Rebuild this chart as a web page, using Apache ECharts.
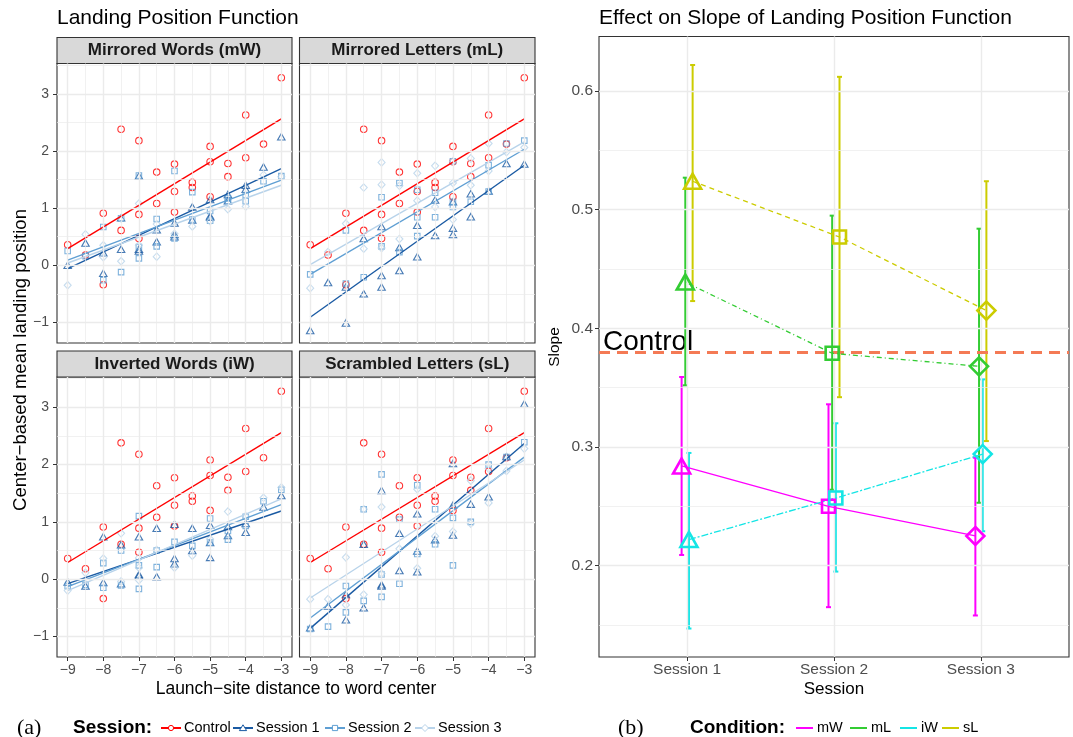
<!DOCTYPE html>
<html><head><meta charset="utf-8">
<script src="https://cdn.jsdelivr.net/npm/echarts@6/dist/echarts.min.js"></script>
<style>html,body{margin:0;padding:0;background:#fff}#c{width:1073px;height:737px}</style>
</head><body><div id="c"></div>
<script>
// ---------------- DATA ----------------
const sessionNames = ['Control', 'Session 1', 'Session 2', 'Session 3'];
const xTicksL = [-9, -8, -7, -6, -5, -4, -3];
const xMinorL = [-8.5, -7.5, -6.5, -5.5, -4.5, -3.5];
const yTicksL = [-1, 0, 1, 2, 3];
const yMinorL = [-0.5, 0.5, 1.5, 2.5, 3.5];

const ctrlPts = [[-9,0.36],[-8.5,0.18],[-8,0.91],[-8,-0.34],[-7.5,2.38],[-7.5,0.61],[-7,2.18],[-7,0.89],[-7,0.47],[-6.5,1.63],[-6.5,1.08],[-6,1.77],[-6,1.29],[-6,0.93],[-5.5,1.45],[-5.5,1.36],[-5,2.08],[-5,1.81],[-5,1.20],[-4.5,1.78],[-4.5,1.55],[-4,2.63],[-4,1.88],[-3.5,2.12],[-3,3.28]];

const mW_s1 = [[-9,0.0],[-8.5,0.39],[-8,0.22],[-8,-0.14],[-7.5,0.83],[-7.5,0.28],[-7,1.56],[-7,0.28],[-7,0.25],[-6.5,0.62],[-6.5,0.41],[-6,0.74],[-6,0.54],[-6,0.50],[-5.5,1.02],[-5.5,0.79],[-5,1.15],[-5,0.86],[-5,0.84],[-4.5,1.24],[-4.5,1.13],[-4,1.40],[-4,1.33],[-3.5,1.72],[-3,2.25]];
const mW_s2 = [[-9,0.25],[-8.5,0.16],[-8,0.67],[-8,-0.26],[-7.5,0.82],[-7.5,-0.12],[-7,1.57],[-7,0.32],[-7,0.12],[-6.5,0.81],[-6.5,0.33],[-6,1.65],[-6,0.47],[-5.5,1.28],[-5.5,0.80],[-5,0.95],[-5,0.78],[-4.5,1.17],[-4.5,1.12],[-4,1.23],[-4,1.12],[-3.5,1.47],[-3,1.56]];
const mW_s3 = [[-9,-0.35],[-8.5,0.54],[-8,0.35],[-8,0.14],[-7.5,0.07],[-7.5,0.82],[-7,1.08],[-7,0.35],[-6.5,0.72],[-6.5,0.15],[-6,0.55],[-5.5,0.68],[-5,0.77],[-4.5,0.98],[-4,1.03],[-3.5,1.58],[-3,1.55]];

const mL_s1 = [[-9,-1.14],[-8.5,-0.30],[-8,-0.38],[-8,-1.01],[-7.5,0.47],[-7.5,-0.50],[-7,0.68],[-7,-0.18],[-7,-0.38],[-6.5,0.31],[-6.5,-0.09],[-6,0.70],[-6,0.15],[-5.5,1.14],[-5.5,0.52],[-5,1.11],[-5,0.65],[-5,0.54],[-4.5,1.25],[-4.5,0.85],[-4,1.30],[-3.5,1.78],[-3,1.77]];
const mL_s2 = [[-9,-0.16],[-8,0.61],[-8,-0.32],[-7.5,-0.21],[-7,1.19],[-7,0.33],[-6.5,1.44],[-6.5,0.23],[-6,1.32],[-6,0.84],[-6,0.51],[-5.5,1.27],[-5.5,0.84],[-5,1.82],[-5,1.11],[-5,1.02],[-4.5,1.11],[-4,1.75],[-4,1.29],[-3.5,2.13],[-3,2.18]];
const mL_s3 = [[-9,-0.40],[-8.5,0.23],[-8,0.73],[-7.5,1.36],[-7.5,0.29],[-7,1.80],[-7,1.41],[-7,0.30],[-6.5,1.39],[-6.5,0.46],[-6,1.61],[-6,1.13],[-5.5,1.74],[-5.5,1.02],[-5,1.82],[-5,1.44],[-5,0.80],[-4.5,1.87],[-4.5,1.40],[-4,2.13],[-4,1.65],[-3.5,1.98],[-3,2.06]];

const iW_s1 = [[-9,-0.05],[-8.5,-0.12],[-8,0.74],[-8,-0.06],[-7.5,0.60],[-7.5,-0.08],[-7,0.74],[-7,0.08],[-7,0.06],[-6.5,0.89],[-6.5,0.04],[-6,0.96],[-6,0.36],[-6,0.27],[-5.5,0.89],[-5.5,0.50],[-5,0.94],[-5,0.64],[-5,0.38],[-4.5,0.92],[-4.5,0.76],[-4,0.97],[-4,0.82],[-3.5,1.26],[-3,1.46]];
const iW_s2 = [[-9,-0.12],[-8.5,-0.10],[-8,0.28],[-8,-0.15],[-7.5,0.50],[-7.5,-0.11],[-7,1.10],[-7,0.24],[-7,-0.17],[-6.5,0.50],[-6.5,0.21],[-6,0.65],[-5.5,0.58],[-5,1.06],[-5,0.64],[-4.5,0.84],[-4.5,0.69],[-4,1.09],[-4,0.93],[-3.5,1.36],[-3,1.56]];
const iW_s3 = [[-9,-0.20],[-8.5,0.11],[-8,0.36],[-7.5,0.80],[-7.5,-0.04],[-7,0.37],[-7,0.20],[-7,-0.02],[-6.5,0.51],[-6,0.20],[-5.5,0.41],[-5,0.70],[-4.5,1.18],[-4,1.10],[-3.5,1.42],[-3,1.60]];

const sL_s1 = [[-9,-0.85],[-8.5,-0.47],[-8,-0.27],[-8,-0.71],[-7.5,0.61],[-7.5,-0.50],[-7,1.55],[-7,-0.10],[-7,-0.12],[-6.5,0.80],[-6.5,0.15],[-6,1.14],[-6,0.49],[-6,0.13],[-5.5,0.69],[-5,2.02],[-5,1.29],[-5,0.77],[-4.5,1.31],[-4,1.44],[-3.5,2.14],[-3,3.06]];
const sL_s2 = [[-9,-0.87],[-8.5,-0.83],[-8,-0.12],[-8,-0.58],[-7.5,1.22],[-7.5,-0.38],[-7,1.83],[-7,0.08],[-7,-0.31],[-6.5,1.04],[-6.5,-0.08],[-6,1.64],[-6,0.44],[-5.5,1.22],[-5.5,0.61],[-5,1.07],[-5,0.24],[-4.5,1.00],[-4,2.00],[-3.5,2.13],[-3,2.39]];
const sL_s3 = [[-9,-0.35],[-8.5,-0.35],[-8,0.38],[-8,-0.45],[-7.5,1.22],[-7.5,-0.27],[-7,1.26],[-7,0.10],[-6.5,0.53],[-6,1.57],[-6,0.19],[-5.5,0.75],[-5,0.83],[-4.5,1.72],[-4.5,0.97],[-4,1.93],[-4,1.33],[-3.5,1.89],[-3,2.28]];

// fitted regression lines: values at fitX (Control, Session 1, Session 2, Session 3)
const fitX = [-9, -3];
const fitMW = [[0.29, 2.56], [-0.06, 1.69], [0.09, 1.49], [0.04, 1.40]];
const fitML = [[0.29, 2.56], [-0.91, 1.75], [-0.16, 2.03], [0.01, 2.16]];
const fitIW = [[0.29, 2.56], [-0.08, 1.19], [-0.13, 1.30], [-0.20, 1.40]];
const fitSL = [[0.29, 2.56], [-0.86, 2.37], [-0.68, 2.13], [-0.33, 2.08]];

// right panel
const sessionLabels = ['Session 1', 'Session 2', 'Session 3'];
const condNames = ['mW', 'mL', 'iW', 'sL'];
const slopeMW = [0.284, 0.250, 0.225], lowMW = [0.209, 0.165, 0.158], highMW = [0.359, 0.336, 0.291];
const slopeML = [0.439, 0.379, 0.368], lowML = [0.352, 0.264, 0.253], highML = [0.527, 0.495, 0.484];
const slopeIW = [0.222, 0.257, 0.294], lowIW = [0.147, 0.195, 0.229], highIW = [0.295, 0.320, 0.357];
const slopeSL = [0.524, 0.477, 0.415], lowSL = [0.423, 0.342, 0.305], highSL = [0.622, 0.612, 0.524];
const controlSlope = 0.375;
const yTicksR = [0.2, 0.3, 0.4, 0.5, 0.6];
const yMinorR = [0.15, 0.25, 0.35, 0.45, 0.55];

// ---------------- STYLE / LAYOUT ----------------
const F = 'Liberation Sans';
const sessColors = ['#ff0000', '#1a5aa3', '#5f9fd3', '#b8d3ea'];
const sessSymbols = ['circle', 'triangle', 'rect', 'diamond'];
const sessSizes = [6.5, [7.5, 6.5], 5.5, [7, 7.5]];
const condColors = ['#ff00ff', '#33cc33', '#14e5e5', '#cccc00'];
const condDash = ['solid', [1, 3, 5, 3], [7, 2, 2, 2], [5, 4]];
const dodge = [-0.0375, -0.0125, 0.0125, 0.0375];
const gridCol = '#ebebeb';

const panels = [
  { title: 'Mirrored Words (mW)', s: [ctrlPts, mW_s1, mW_s2, mW_s3], fit: fitMW, left: 57, top: 63.5, w: 235, h: 279.5, xl: false, yl: true },
  { title: 'Mirrored Letters (mL)', s: [ctrlPts, mL_s1, mL_s2, mL_s3], fit: fitML, left: 299.5, top: 63.5, w: 235.5, h: 279.5, xl: false, yl: false },
  { title: 'Inverted Words (iW)', s: [ctrlPts, iW_s1, iW_s2, iW_s3], fit: fitIW, left: 57, top: 377, w: 235, h: 280, xl: true, yl: true },
  { title: 'Scrambled Letters (sL)', s: [ctrlPts, sL_s1, sL_s2, sL_s3], fit: fitSL, left: 299.5, top: 377, w: 235.5, h: 280, xl: true, yl: false }
];
const R = { left: 599, top: 36.5, w: 470, h: 620.5 };

const fmtNum = v => (v < 0 ? '\u2212' + Math.abs(v) : String(v));

const grids = [], xAxes = [], yAxes = [], series = [];

function gridLineSeries(gi, anchor, xMaj, xMin, yMaj, yMin) {
  const d = [];
  xMin.forEach(v => d.push({ xAxis: v, lineStyle: { color: gridCol, width: 0.7, type: 'solid' } }));
  yMin.forEach(v => d.push({ yAxis: v, lineStyle: { color: gridCol, width: 0.7, type: 'solid' } }));
  xMaj.forEach(v => d.push({ xAxis: v, lineStyle: { color: gridCol, width: 1.4, type: 'solid' } }));
  yMaj.forEach(v => d.push({ yAxis: v, lineStyle: { color: gridCol, width: 1.4, type: 'solid' } }));
  return {
    type: 'line', xAxisIndex: gi, yAxisIndex: gi, data: [anchor], symbol: 'none',
    lineStyle: { opacity: 0 }, silent: true, z: 1,
    markLine: { silent: true, symbol: 'none', label: { show: false }, animation: false, data: d }
  };
}

panels.forEach((P, i) => {
  grids.push({ left: P.left, top: P.top, width: P.w, height: P.h, show: true, borderColor: '#333', borderWidth: 1.1, backgroundColor: '#fff' });
  xAxes.push({
    type: 'value', gridIndex: i, min: -9.3, max: -2.7,
    splitLine: { show: false }, axisLine: { show: false, onZero: false },
    axisTick: { show: P.xl, length: 4, customValues: xTicksL, lineStyle: { color: '#333', width: 1 } },
    axisLabel: { show: P.xl, customValues: xTicksL, formatter: fmtNum, color: '#4d4d4d', fontSize: 14, fontFamily: F, margin: 6 }
  });
  yAxes.push({
    type: 'value', gridIndex: i, min: -1.36, max: 3.53,
    splitLine: { show: false }, axisLine: { show: false, onZero: false },
    axisTick: { show: P.yl, length: 4, customValues: yTicksL, lineStyle: { color: '#333', width: 1 } },
    axisLabel: { show: P.yl, customValues: yTicksL, formatter: fmtNum, color: '#4d4d4d', fontSize: 14, fontFamily: F, margin: 8 }
  });
  series.push(gridLineSeries(i, [-6, 0], xTicksL, xMinorL, yTicksL, yMinorL));
  P.s.forEach((pts, k) => {
    series.push({
      type: 'scatter', name: sessionNames[k], xAxisIndex: i, yAxisIndex: i, data: pts,
      symbol: sessSymbols[k], symbolSize: sessSizes[k], z: 3, silent: true,
      itemStyle: { color: 'rgba(0,0,0,0)', borderColor: sessColors[k], borderWidth: 1.1 }
    });
  });
  P.fit.forEach((f, k) => {
    series.push({
      type: 'line', xAxisIndex: i, yAxisIndex: i, data: [[fitX[0], f[0]], [fitX[1], f[1]]],
      symbol: 'none', z: 4, silent: true, lineStyle: { color: sessColors[k], width: 1.4 }
    });
  });
});

// right panel
const RI = 4;
grids.push({ left: R.left, top: R.top, width: R.w, height: R.h, show: true, borderColor: '#333', borderWidth: 1.1, backgroundColor: '#fff' });
xAxes.push({
  type: 'value', gridIndex: RI, min: 0.4, max: 3.6,
  splitLine: { show: false }, axisLine: { show: false, onZero: false },
  axisTick: { show: true, length: 4, customValues: [1, 2, 3], lineStyle: { color: '#333', width: 1 } },
  axisLabel: { show: true, customValues: [1, 2, 3], formatter: v => sessionLabels[Math.round(v) - 1], color: '#4d4d4d', fontSize: 15.5, fontFamily: F, margin: 5 }
});
yAxes.push({
  type: 'value', gridIndex: RI, min: 0.123, max: 0.646,
  splitLine: { show: false }, axisLine: { show: false, onZero: false },
  axisTick: { show: true, length: 4, customValues: yTicksR, lineStyle: { color: '#333', width: 1 } },
  axisLabel: { show: true, customValues: yTicksR, formatter: v => v.toFixed(1), color: '#4d4d4d', fontSize: 15.5, fontFamily: F, margin: 6 }
});
series.push(gridLineSeries(RI, [2, 0.4], [1, 2, 3], [], yTicksR, yMinorR));

const slopes = [slopeMW, slopeML, slopeIW, slopeSL];
const lows = [lowMW, lowML, lowIW, lowSL];
const highs = [highMW, highML, highIW, highSL];
const rSymbols = ['triangle', 'rect', 'diamond'];
const rSizes = [[17, 15], 13, [18, 18]];

condNames.forEach((c, ci) => {
  const col = condColors[ci];
  series.push({
    type: 'custom', name: c, xAxisIndex: RI, yAxisIndex: RI, z: 3, silent: true,
    data: sessionLabels.map((s, si) => [si + 1 + dodge[ci], lows[ci][si], highs[ci][si]]),
    encode: { x: 0, y: [1, 2] },
    renderItem: (params, api) => {
      const x = api.value(0);
      const a = api.coord([x, api.value(1)]);
      const b = api.coord([x, api.value(2)]);
      const w = 2.5, st = { stroke: col, lineWidth: 2 };
      return {
        type: 'group', children: [
          { type: 'line', shape: { x1: a[0], y1: a[1], x2: b[0], y2: b[1] }, style: st },
          { type: 'line', shape: { x1: a[0] - w, y1: a[1], x2: a[0] + w, y2: a[1] }, style: st },
          { type: 'line', shape: { x1: b[0] - w, y1: b[1], x2: b[0] + w, y2: b[1] }, style: st }
        ]
      };
    }
  });
});
condNames.forEach((c, ci) => {
  const col = condColors[ci];
  series.push({
    type: 'line', name: c, xAxisIndex: RI, yAxisIndex: RI, z: 5, silent: true,
    data: sessionLabels.map((s, si) => ({ value: [si + 1 + dodge[ci], slopes[ci][si]], symbol: rSymbols[si], symbolSize: rSizes[si] })),
    showSymbol: true, symbolKeepAspect: false,
    lineStyle: { color: col, width: 1.3, type: condDash[ci] },
    itemStyle: { color: 'rgba(0,0,0,0)', borderColor: col, borderWidth: 2.6 }
  });
});
series.push({
  type: 'line', xAxisIndex: RI, yAxisIndex: RI, data: [[2, controlSlope]], symbol: 'none',
  lineStyle: { opacity: 0 }, silent: true, z: 2,
  markLine: {
    silent: true, symbol: 'none', label: { show: false }, animation: false,
    data: [{ yAxis: controlSlope, lineStyle: { color: '#f47a55', width: 3, type: [11, 7] } }]
  }
});

const chart = echarts.init(document.getElementById('c'));
chart.setOption({
  animation: false, backgroundColor: '#fff',
  textStyle: { fontFamily: F },
  grid: grids, xAxis: xAxes, yAxis: yAxes, series: series
});

// ---------------- GRAPHICS (titles, strips, legends) ----------------
const g = [];
const txt = (x, y, text, size, opts = {}) => g.push(Object.assign({
  type: 'text', x, y, silent: true,
  style: Object.assign({ text, fontSize: size, fontFamily: F, fill: '#000', align: 'left', verticalAlign: 'middle' }, opts.style || {})
}, opts.el || {}));

txt(57, 18, 'Landing Position Function', 21);
txt(599, 18, 'Effect on Slope of Landing Position Function', 21);

panels.forEach(P => {
  g.push({ type: 'rect', silent: true, shape: { x: P.left, y: P.top - 26, width: P.w, height: 26 },
    style: { fill: '#d9d9d9', stroke: '#333', lineWidth: 1.1 } });
  txt(P.left + P.w / 2, P.top - 13, P.title, 17, { style: { align: 'center', fontWeight: 'bold', fill: '#1a1a1a' } });
});

txt(296, 689, 'Launch\u2212site distance to word center', 17.5, { style: { align: 'center' } });
txt(21, 360, 'Center\u2212based mean landing position', 18.5, { style: { align: 'center' }, el: { rotation: Math.PI / 2 } });
txt(834, 689, 'Session', 17, { style: { align: 'center' } });
txt(555, 347, 'Slope', 15.5, { style: { align: 'center' }, el: { rotation: Math.PI / 2 } });

// Control annotation anchored to the control slope value
const cp = chart.convertToPixel({ xAxisIndex: RI, yAxisIndex: RI }, [0.4, controlSlope]);
txt(cp[0] + 4, cp[1] - 2, 'Control', 28, { style: { verticalAlign: 'bottom' } });

// legend (a)
const LY = 728;
txt(17, LY, '(a)', 22, { style: { fontFamily: 'Liberation Serif' } });
txt(73, LY, 'Session:', 19, { style: { fontWeight: 'bold' } });
const legAX = [161, 233, 325, 415];
function legendSym(k, cx, cy, col) {
  const st = { fill: '#fff', stroke: col, lineWidth: 1 };
  if (k === 0) g.push({ type: 'circle', silent: true, shape: { cx, cy, r: 2.6 }, style: st });
  if (k === 1) g.push({ type: 'polygon', silent: true, shape: { points: [[cx, cy - 3.2], [cx + 3.6, cy + 2.6], [cx - 3.6, cy + 2.6]] }, style: st });
  if (k === 2) g.push({ type: 'rect', silent: true, shape: { x: cx - 2.6, y: cy - 2.6, width: 5.2, height: 5.2 }, style: st });
  if (k === 3) g.push({ type: 'polygon', silent: true, shape: { points: [[cx, cy - 3.5], [cx + 3.5, cy], [cx, cy + 3.5], [cx - 3.5, cy]] }, style: st });
}
sessionNames.forEach((s, k) => {
  const x0 = legAX[k];
  g.push({ type: 'line', silent: true, shape: { x1: x0, y1: LY, x2: x0 + 20, y2: LY }, style: { stroke: sessColors[k], lineWidth: 2 } });
  legendSym(k, x0 + 10, LY, sessColors[k]);
  txt(x0 + 23, LY, s, 14.5);
});

// legend (b)
txt(618, LY, '(b)', 22, { style: { fontFamily: 'Liberation Serif' } });
txt(690, LY, 'Condition:', 19, { style: { fontWeight: 'bold' } });
const legBX = [796, 850, 900, 942];
condNames.forEach((c, k) => {
  const x0 = legBX[k];
  g.push({ type: 'line', silent: true, shape: { x1: x0, y1: LY, x2: x0 + 17, y2: LY }, style: { stroke: condColors[k], lineWidth: 2 } });
  txt(x0 + 21, LY, c, 14.5);
});

chart.setOption({ graphic: { elements: g } });
</script>
</body></html>
